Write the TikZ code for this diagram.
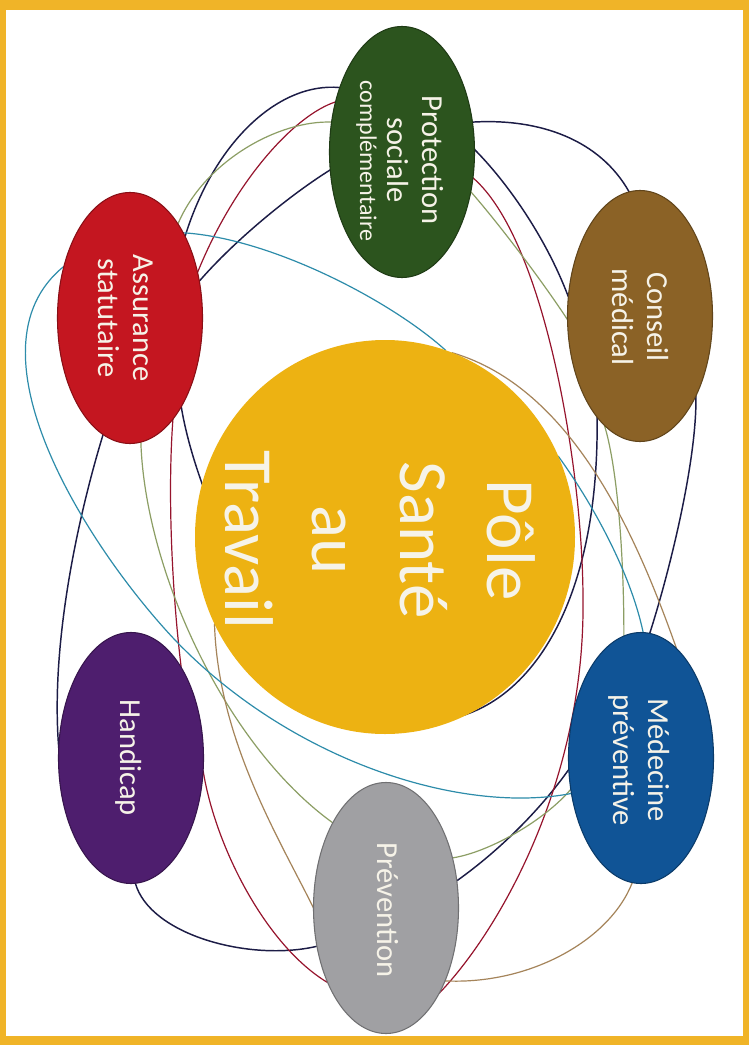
\documentclass[tikz,border=0pt]{standalone}
\usepackage{fontspec}
\setmainfont{Carlito}
\usetikzlibrary{shapes.geometric}
\pgfdeclarelayer{bg}
\pgfsetlayers{bg,main}
\definecolor{frameY}{RGB}{240,180,40}
\definecolor{poleY}{RGB}{237,178,18}
\definecolor{protC}{RGB}{44,84,30}
\definecolor{consC}{RGB}{139,98,38}
\definecolor{medC}{RGB}{16,84,150}
\definecolor{prevC}{RGB}{160,160,163}
\definecolor{handC}{RGB}{78,30,110}
\definecolor{assuC}{RGB}{196,22,32}
\definecolor{txtC}{RGB}{246,243,232}
\definecolor{navyL}{RGB}{28,28,70}
\definecolor{redL}{RGB}{150,20,45}
\definecolor{oliveL}{RGB}{140,158,100}
\definecolor{tanL}{RGB}{165,132,90}
\definecolor{tealL}{RGB}{45,140,170}
\begin{document}
\begin{tikzpicture}[x=0.75pt,y=-0.75pt,
  oval/.style={ellipse, minimum width=108.75pt, minimum height=188.25pt,
    inner sep=0pt, outer sep=0pt, draw=#1!70!black, line width=0.8pt, fill=#1},
  lbl/.style={rotate=-90, anchor=base, text=txtC, inner sep=0pt,
    font=\fontsize{22.9}{27}\selectfont},
  smalllbl/.style={lbl, font=\fontsize{18}{21}\selectfont},
  biglbl/.style={lbl, font=\fontsize{51.75}{60}\selectfont},
  link/.style={line width=0.9pt, line cap=round},
  navylink/.style={link, draw=navyL, line width=1.1pt},
  redlink/.style={link, draw=redL},
  olivelink/.style={link, draw=oliveL},
  tanlink/.style={link, draw=tanL},
  teallink/.style={link, draw=tealL}]

\begin{pgfonlayer}{bg}
  \fill[frameY] (0,0) rectangle (749,1045);
  \fill[white] (6,10) rectangle (743,1036);
\end{pgfonlayer}
\path[use as bounding box] (0,0) rectangle (749,1045);

% central circle
\node[ellipse, minimum width=285pt, minimum height=295.5pt, inner sep=0pt,
      outer sep=0pt, fill=poleY] (pole) at (385,537) {};
\node[biglbl] (pt1) at (487,540) {Pôle};
\node[biglbl] (pt2) at (400,540) {Santé};
\node[biglbl] (pt3) at (312,540) {au};
\node[biglbl] (pt4) at (225,540) {Travail};

% satellites
\node[oval=protC] (prot) at (402,152) {};
\node[oval=consC] (cons) at (640,316) {};
\node[oval=medC]  (med)  at (641,758) {};
\node[oval=prevC] (prev) at (386,908) {};
\node[oval=handC] (hand) at (131,758) {};
\node[oval=assuC] (assu) at (130,318) {};

\node[lbl] (protT1) at (422,160) {Protection};
\node[lbl] (protT2) at (387,160) {sociale};
\node[smalllbl] (protT3) at (360,161) {complémentaire};
\node[lbl] (consT1) at (647,317) {Conseil};
\node[lbl] (consT2) at (612,317) {médical};
\node[lbl] (medT1) at (648,760) {Médecine};
\node[lbl] (medT2) at (613,760) {préventive};
\node[lbl] (prevT) at (377,910) {Prévention};
\node[lbl] (handT) at (120,758) {Handicap};
\node[lbl] (assuT1) at (133,318) {Assurance};
\node[lbl] (assuT2) at (98,318) {statutaire};

% hidden waypoints (behind the circle)
\coordinate (nvmid) at (400,718);
\coordinate (rdmid) at (583,600);
\coordinate (tlmid) at (175,640);

\begin{pgfonlayer}{bg}
% navy outer loop
\draw[navylink] (prot.134) .. controls (280,82) and (215,140) .. (assu.56);
\draw[navylink] (assu.257) .. controls (80,510) and (50,640) .. (hand.172);
\draw[navylink] (hand.272) .. controls (150,935) and (250,962) .. (prev.209);
\draw[navylink] (prev.21) .. controls (500,850) and (540,810) .. (med.189);
\draw[navylink] (med.86) .. controls (670,570) and (697,460) .. (cons.305);
\draw[navylink] (prot.23) .. controls (540,118) and (600,140) .. (cons.95);
% navy inner loop
\draw[navylink] (prot.194) .. controls (290,195) and (235,240) .. (assu.28);
\draw[navylink] (assu.300) .. controls (200,520) and (300,715) .. (nvmid)
                .. controls (500,740) and (600,640) .. (cons.247);
\draw[navylink] (prot.2) .. controls (505,180) and (545,235) .. (cons.165);
% dark red loop
\draw[redlink] (prot.143) .. controls (295,115) and (235,180) .. (assu.34);
\draw[redlink] (assu.293) .. controls (167,500) and (173,600) .. (hand.61);
\draw[redlink] (hand.350) .. controls (215,845) and (265,945) .. (prev.232);
\draw[redlink] (prev.302) .. controls (500,930) and (585,780) .. (rdmid)
               .. controls (583,470) and (545,240) .. (prot.340);
% olive loop
\draw[olivelink] (prot.157) .. controls (280,120) and (205,160) .. (assu.63);
\draw[olivelink] (assu.275) .. controls (145,570) and (225,745) .. (prev.122);
\draw[olivelink] (prev.37) .. controls (490,852) and (545,820) .. (med.204);
\draw[olivelink] (med.98) .. controls (624,560) and (618,470) .. (cons.252);
\draw[olivelink] (prot.330) .. controls (500,225) and (545,285) .. (cons.183);
% tan loop
\draw[tanlink] (pole.70) .. controls (573,388) and (637,537) .. (med.72);
\draw[tanlink] (med.266) .. controls (610,940) and (530,985) .. (prev.309);
\draw[tanlink] (prev.180) .. controls (280,840) and (218,740) .. (pole.207);
% teal loop
\draw[teallink] (assu.58) .. controls (270,238) and (390,300) .. (pole.72);
\draw[teallink] (pole.25) .. controls (590,500) and (630,570) .. (med.89);
\draw[teallink] (med.207) .. controls (460,815) and (290,760) .. (tlmid)
                .. controls (90,550) and (-40,350) .. (assu.142);
\end{pgfonlayer}
\end{tikzpicture}
\end{document}
